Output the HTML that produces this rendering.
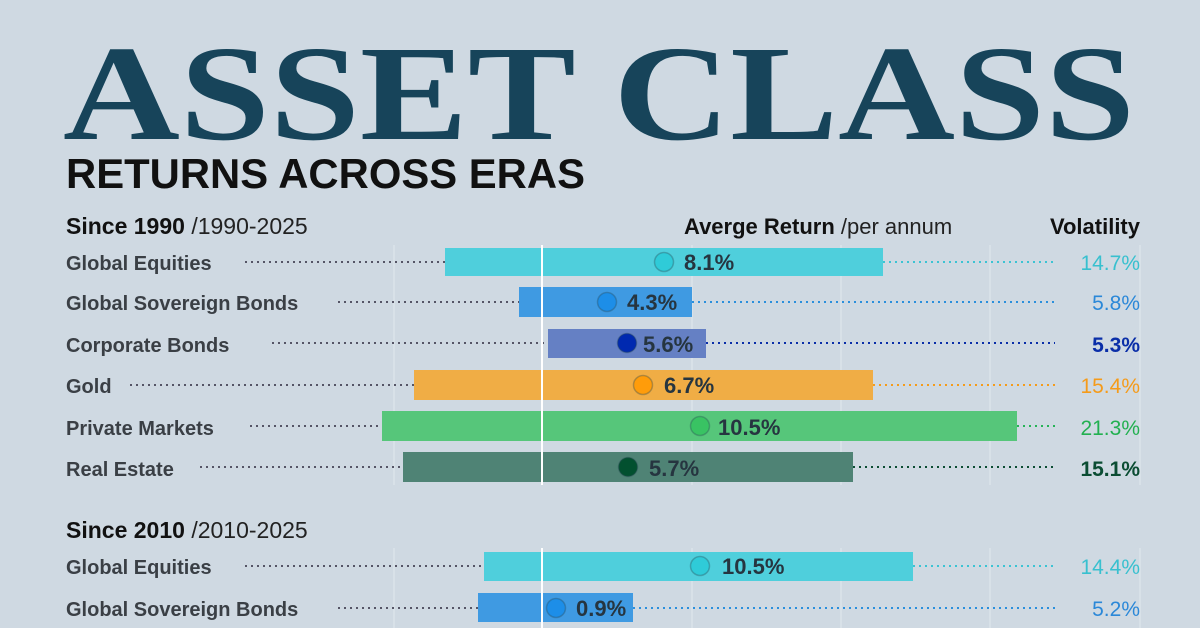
<!DOCTYPE html>
<html><head><meta charset="utf-8"><style>
html,body{margin:0;padding:0;background:#cfd9e2;}
svg{display:block}
</style></head><body>
<svg width="1200" height="628" viewBox="0 0 1200 628" xmlns="http://www.w3.org/2000/svg" font-family="Liberation Sans, sans-serif">
<rect width="1200" height="628" fill="#cfd9e2"/>
<text x="63" y="139" font-family="Liberation Serif, serif" font-weight="bold" font-size="136" fill="#17445a" textLength="1072" lengthAdjust="spacingAndGlyphs">ASSET CLASS</text>
<text x="66" y="188" font-weight="bold" font-size="42" fill="#111" textLength="519" lengthAdjust="spacingAndGlyphs">RETURNS ACROSS ERAS</text>

<g stroke="#e2e9ef" stroke-width="1">
<line x1="394" y1="245" x2="394" y2="485"/><line x1="692" y1="245" x2="692" y2="485"/>
<line x1="841" y1="245" x2="841" y2="485"/><line x1="990" y1="245" x2="990" y2="485"/><line x1="1140" y1="245" x2="1140" y2="485"/>
<line x1="394" y1="548" x2="394" y2="628"/><line x1="692" y1="548" x2="692" y2="628"/>
<line x1="841" y1="548" x2="841" y2="628"/><line x1="990" y1="548" x2="990" y2="628"/><line x1="1140" y1="548" x2="1140" y2="628"/>
</g>

<text x="66" y="234" font-size="23" font-weight="bold" fill="#111">Since 1990 <tspan font-weight="normal" fill="#222">/1990-2025</tspan></text>
<text x="684" y="234" font-size="22" font-weight="bold" fill="#111">Averge Return <tspan font-weight="normal" fill="#222">/per annum</tspan></text>
<text x="1140" y="234" font-size="22" font-weight="bold" fill="#111" text-anchor="end">Volatility</text>

<g font-size="20" fill="#3a3f45" font-weight="bold">
<text x="66" y="270">Global Equities</text>
<text x="66" y="310">Global Sovereign Bonds</text>
<text x="66" y="352">Corporate Bonds</text>
<text x="66" y="393">Gold</text>
<text x="66" y="435">Private Markets</text>
<text x="66" y="476">Real Estate</text>
<text x="66" y="574">Global Equities</text>
<text x="66" y="616">Global Sovereign Bonds</text>
</g>

<g stroke-width="2" stroke-dasharray="2 4" fill="none">
<line x1="245" y1="262" x2="445" y2="262" stroke="#556"/><line x1="883" y1="262" x2="1055" y2="262" stroke="#3cc3d3"/>
<line x1="338" y1="302" x2="519" y2="302" stroke="#556"/><line x1="692" y1="302" x2="1055" y2="302" stroke="#2b8fdc"/>
<line x1="272" y1="343" x2="548" y2="343" stroke="#556"/><line x1="706" y1="343" x2="1055" y2="343" stroke="#0a2ea8"/>
<line x1="130" y1="385" x2="414" y2="385" stroke="#556"/><line x1="873" y1="385" x2="1055" y2="385" stroke="#f59b1a"/>
<line x1="250" y1="426" x2="382" y2="426" stroke="#556"/><line x1="1017" y1="426" x2="1055" y2="426" stroke="#26b357"/>
<line x1="200" y1="467" x2="403" y2="467" stroke="#556"/><line x1="853" y1="467" x2="1055" y2="467" stroke="#0b4d33"/>
<line x1="245" y1="566" x2="484" y2="566" stroke="#556"/><line x1="913" y1="566" x2="1055" y2="566" stroke="#3cc3d3"/>
<line x1="338" y1="608" x2="478" y2="608" stroke="#556"/><line x1="633" y1="608" x2="1055" y2="608" stroke="#2b8fdc"/>
</g>

<rect x="445" y="248" width="438" height="28" fill="#4fcfdc"/>
<rect x="519" y="287" width="173" height="30" fill="#3f9ae2"/>
<rect x="548" y="329" width="158" height="29" fill="#6580c4"/>
<rect x="414" y="370" width="459" height="30" fill="#f0ad45"/>
<rect x="382" y="411" width="635" height="30" fill="#56c67a"/>
<rect x="403" y="452" width="450" height="30" fill="#4f8375"/>
<rect x="484" y="552" width="429" height="29" fill="#4fcfdc"/>
<rect x="478" y="593" width="155" height="29" fill="#3f9ae2"/>

<line x1="542" y1="245" x2="542" y2="485" stroke="#fff" stroke-width="2"/>
<line x1="542" y1="548" x2="542" y2="628" stroke="#fff" stroke-width="2"/>

<g stroke="#2a4a55" stroke-opacity="0.35" stroke-width="1.5">
<circle cx="664" cy="262" r="9.5" fill="#2fcbd8"/>
<circle cx="607" cy="302" r="9.5" fill="#1d8ee8"/>
<circle cx="627" cy="343" r="9.5" fill="#0029b0"/>
<circle cx="643" cy="385" r="9.5" fill="#ff9c0a"/>
<circle cx="700" cy="426" r="9.5" fill="#39c363"/>
<circle cx="628" cy="467" r="9.5" fill="#02502f"/>
<circle cx="700" cy="566" r="9.5" fill="#2fcbd8"/>
<circle cx="556" cy="608" r="9.5" fill="#1d8ee8"/>
</g>
<g font-size="22" font-weight="bold" fill="#263540">
<text x="684" y="270">8.1%</text>
<text x="627" y="310">4.3%</text>
<text x="643" y="352">5.6%</text>
<text x="664" y="393">6.7%</text>
<text x="718" y="435">10.5%</text>
<text x="649" y="476">5.7%</text>
<text x="722" y="574">10.5%</text>
<text x="576" y="616">0.9%</text>
</g>
<g font-size="21" text-anchor="end">
<text x="1140" y="270" fill="#38c0cf">14.7%</text>
<text x="1140" y="310" fill="#2b88d8">5.8%</text>
<text x="1140" y="352" fill="#0a2ea8" font-weight="bold">5.3%</text>
<text x="1140" y="393" fill="#f59b1a">15.4%</text>
<text x="1140" y="435" fill="#22b050">21.3%</text>
<text x="1140" y="476" fill="#0b4d33" font-weight="bold">15.1%</text>
<text x="1140" y="574" fill="#38c0cf">14.4%</text>
<text x="1140" y="616" fill="#2b88d8">5.2%</text>
</g>

<text x="66" y="538" font-size="23" font-weight="bold" fill="#111">Since 2010 <tspan font-weight="normal" fill="#222">/2010-2025</tspan></text>
</svg>
</body></html>
